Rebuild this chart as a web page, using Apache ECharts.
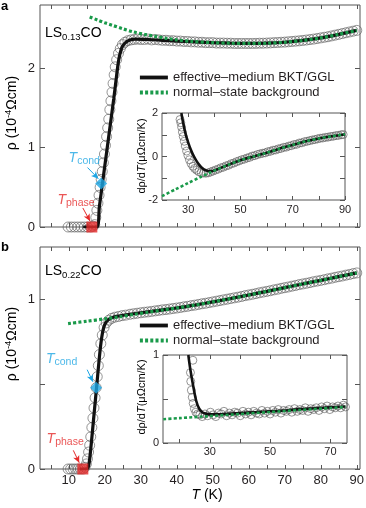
<!DOCTYPE html>
<html>
<head>
<meta charset="utf-8">
<script src="https://cdn.jsdelivr.net/npm/echarts@6/dist/echarts.min.js"></script>
<style>
  html, body { margin: 0; padding: 0; background: #fff; }
  #chart { width: 366px; height: 508px; }
</style>
</head>
<body>
<div id="chart"></div>
<script>
'use strict';

// panel a: LS0.13CO, rho (1e-4 Ohm cm) vs T (K)
var aCircles = [
  [9.8,0],[10.7,0],[11.6,0],[12.5,0],[13.4,0],[14.3,0],[15.2,0],[16.1,0],[16.8,0.01],
  [17.2,0.03],[17.5,0.12],[17.8,0.21],[18.1,0.30],[18.4,0.40],[18.7,0.50],[19.0,0.60],[19.3,0.70],
  [19.6,0.81],[19.9,0.92],[20.2,1.03],[20.5,1.14],[20.8,1.25],[21.1,1.36],[21.4,1.48],[21.7,1.59],
  [22.0,1.70],[22.3,1.81],[22.6,1.92],[22.9,2.02],[23.3,2.11],[23.8,2.19],[24.3,2.25],[24.9,2.30],
  [25.6,2.33],[26.4,2.35],[27.3,2.36],[28.2,2.365],[29.1,2.37],[30.0,2.365],
  [31,2.365],[32,2.37],[33,2.36],[34,2.365],[35,2.36],[36,2.355],[37,2.355],[38,2.35],[39,2.35],
  [40,2.345],[41,2.345],[42,2.34],[43,2.34],[44,2.335],[45,2.335],[46,2.33],[47,2.33],[48,2.325],
  [49,2.325],[50,2.325],[51,2.32],[52,2.32],[53,2.32],[54,2.318],[55,2.318],[56,2.315],[57,2.315],
  [58,2.315],[59,2.315],[60,2.315],[61,2.315],[62,2.316],[63,2.318],[64,2.318],[65,2.32],[66,2.322],
  [67,2.325],[68,2.327],[69,2.33],[70,2.332],[71,2.336],[72,2.34],[73,2.344],[74,2.348],[75,2.353],
  [76,2.358],[77,2.364],[78,2.37],[79,2.377],[80,2.385],[81,2.393],[82,2.40],[83,2.41],[84,2.42],
  [85,2.43],[86,2.44],[87,2.45],[88,2.46],[89,2.47],[90,2.48]
];
var aFit = [
  [14,0],[17.7,0],[18.5,0.26],[19.5,0.6],[20.5,0.94],[21.5,1.28],[22.5,1.62],[23.2,1.88],[23.7,2.06],
  [24.2,2.18],[24.8,2.27],[25.6,2.32],[26.8,2.355],[28.5,2.37],[32,2.365],[36,2.355],[40,2.345],
  [45,2.335],[50,2.325],[55,2.318],[60,2.315],[65,2.318],[70,2.33],[75,2.353],[80,2.385],[85,2.43],[90,2.48]
];
var aBackground = [
  [15.8,2.65],[18,2.61],[20,2.575],[22,2.545],[25,2.50],[28,2.46],[31,2.43],[34,2.405],[37,2.38],
  [40,2.36],[44,2.342],[50,2.325],[55,2.318],[60,2.315],[65,2.318],[70,2.33],[75,2.353],[80,2.385],
  [85,2.43],[90,2.48]
];
var aCond = [19.0, 0.55];
var aPhase = [16.4, 0];

// panel a inset: d rho / dT (micro Ohm cm / K)
var iaCircles = [
  [26.9,1.70],[27.2,1.55],[27.5,1.35],[27.8,1.12],[28.1,0.92],[28.5,0.70],[28.9,0.48],[29.4,0.25],
  [29.9,0.05],[30.5,-0.15],[31.1,-0.32],[31.8,-0.45],[32.5,-0.55],[33.3,-0.63],[34.1,-0.70],[35.0,-0.74],
  [35.9,-0.76],[36.8,-0.77],[37.7,-0.75],[38.6,-0.71],[39.5,-0.67],[40.5,-0.62],[41.5,-0.58],[42.5,-0.52],
  [43.5,-0.49],[44.5,-0.43],[45.5,-0.40],[46.5,-0.33],[47.5,-0.30],[48.5,-0.24],[49.5,-0.20],[50.5,-0.15],
  [51.5,-0.12],[52.5,-0.07],[53.5,-0.04],[54.5,0.02],[55.5,0.04],[56.5,0.09],[57.5,0.12],[58.5,0.15],
  [59.5,0.17],[60.5,0.22],[61.5,0.24],[62.5,0.29],[63.5,0.30],[64.5,0.35],[65.5,0.37],[66.5,0.42],
  [67.5,0.43],[68.5,0.48],[69.5,0.50],[70.5,0.55],[71.5,0.56],[72.5,0.62],[73.5,0.63],[74.5,0.68],
  [75.5,0.70],[76.5,0.73],[77.5,0.76],[78.5,0.78],[79.5,0.81],[80.5,0.84],[81.5,0.85],[82.5,0.88],
  [83.5,0.89],[84.5,0.92],[85.5,0.93],[86.5,0.96],[87.5,0.97],[88.5,1.00],[89.3,1.01]
];
var iaFit = [
  [27.4,2.0],[28,1.6],[29,1.05],[30,0.65],[31,0.32],[32,0.05],[33,-0.17],[34,-0.35],[35,-0.49],
  [36,-0.59],[37,-0.65],[38,-0.68],[39,-0.67],[40,-0.64],[41,-0.60],[45,-0.40],[50,-0.17],[55,0.0],
  [60,0.17],[65,0.36],[70,0.53],[75,0.70],[80,0.83],[85,0.93],[90,1.02]
];
var iaBackground = [
  [20,-1.82],[25,-1.52],[30,-1.22],[35,-0.93],[38,-0.76],[41,-0.60],[45,-0.40],[50,-0.17],[55,0.0],
  [60,0.17],[65,0.36],[70,0.53],[75,0.70],[80,0.83],[85,0.93],[90,1.02]
];

// panel b: LS0.22CO
var bCircles = [
  [9.8,0],[10.5,0],[11.2,0],[11.9,0],[12.6,0],[13.3,0],[14.0,0],
  [14.5,0.01],[14.9,0.03],[15.2,0.06],[15.5,0.10],[15.8,0.14],[16.1,0.19],[16.4,0.245],[16.7,0.30],
  [17.0,0.36],[17.3,0.42],[17.6,0.48],[17.9,0.545],[18.2,0.61],[18.5,0.675],[18.9,0.74],[19.3,0.79],
  [19.8,0.835],[20.4,0.862],[21.1,0.878],[21.9,0.889],[22.8,0.896],[23.8,0.90],[24.8,0.905],[25.8,0.908],
  [27,0.913],[28,0.916],[29,0.919],[30,0.922],[31,0.925],[32,0.927],[33,0.930],[34,0.933],[35,0.936],
  [36,0.939],[37,0.941],[38,0.944],[39,0.947],[40,0.950],[41,0.953],[42,0.957],[43,0.960],[44,0.964],
  [45,0.967],[46,0.971],[47,0.975],[48,0.978],[49,0.982],[50,0.986],[51,0.990],[52,0.994],[53,0.998],
  [54,1.002],[55,1.006],[56,1.010],[57,1.014],[58,1.018],[59,1.023],[60,1.027],[61,1.031],[62,1.035],
  [63,1.040],[64,1.044],[65,1.048],[66,1.052],[67,1.057],[68,1.061],[69,1.066],[70,1.070],[71,1.074],
  [72,1.079],[73,1.083],[74,1.088],[75,1.092],[76,1.096],[77,1.100],[78,1.105],[79,1.109],[80,1.113],
  [81,1.117],[82,1.122],[83,1.126],[84,1.131],[85,1.135],[86,1.139],[87,1.144],[88,1.148],[89,1.153],[90,1.157]
];
var bFit = [
  [13,0],[15.0,0],[15.6,0.03],[16.2,0.14],[17.0,0.32],[17.8,0.5],[18.5,0.66],[19.1,0.77],[19.7,0.835],
  [20.4,0.868],[21.3,0.886],[22.5,0.897],[24,0.903],[26,0.91],[30,0.922],[35,0.936],[40,0.95],[45,0.967],
  [50,0.986],[55,1.006],[60,1.027],[65,1.048],[70,1.07],[75,1.092],[80,1.113],[85,1.135],[90,1.157]
];
var bBackground = [
  [9.8,0.858],[15,0.872],[20,0.886],[24,0.898],[28,0.912],[32,0.925],[36,0.938],[40,0.95],[45,0.967],
  [50,0.986],[55,1.006],[60,1.027],[65,1.048],[70,1.07],[75,1.092],[80,1.113],[85,1.135],[90,1.157]
];
var bCond = [17.6, 0.48];
var bPhase = [13.9, 0];

// panel b inset
var ibCircles = [
  [24.4,0.94],[23.6,0.80],[23.7,0.70],[23.9,0.60],[24.2,0.52],[24.5,0.45],[24.9,0.39],[25.4,0.35],
  [26.0,0.33],[26.7,0.32],[27.5,0.30],[28.4,0.33],[29.3,0.31],[30.2,0.35],[31.1,0.32],[32.0,0.30],
  [32.9,0.34],[33.8,0.33],[34.7,0.36],[35.6,0.31],[36.5,0.34],[37.4,0.32],[38.3,0.35],[39.2,0.34],
  [40.1,0.31],[41.0,0.36],[41.9,0.33],[42.8,0.35],[43.7,0.32],[44.6,0.36],[45.5,0.34],[46.4,0.33],
  [47.3,0.37],[48.2,0.34],[49.1,0.36],[50.0,0.33],[50.9,0.37],[51.8,0.35],[52.7,0.38],[53.6,0.34],
  [54.5,0.37],[55.4,0.36],[56.3,0.38],[57.2,0.35],[58.1,0.39],[59.0,0.36],[59.9,0.38],[60.8,0.37],
  [61.7,0.40],[62.6,0.36],[63.5,0.39],[64.4,0.38],[65.3,0.40],[66.2,0.37],[67.1,0.41],[68.0,0.39],
  [68.9,0.42],[69.8,0.38],[70.7,0.41],[71.6,0.40],[72.5,0.42],[73.4,0.40],[74.3,0.43],[75.0,0.41]
];
var ibFit = [
  [22.9,1.0],[23.5,0.85],[24.5,0.65],[25.5,0.48],[26.5,0.39],[27.5,0.35],[28.5,0.335],[30,0.325],
  [35,0.33],[40,0.34],[45,0.35],[50,0.36],[55,0.37],[60,0.385],[65,0.395],[70,0.405],[75,0.415]
];
var ibBackground = [
  [14.6,0.27],[20,0.283],[30,0.306],[40,0.329],[50,0.352],[60,0.375],[70,0.398],[75,0.41]
];

// ticks and labels
var mainXTicks = [5,10,15,20,25,30,35,40,45,50,55,60,65,70,75,80,85,90];
var mainXLabels = [10,20,30,40,50,60,70,80,90];
var aYTicks = [0,1,2];
var aYLabels = [0,1,2];
var bYTicks = [0,0.5,1];
var bYLabels = [0,1];
var iaXTicks = [30,40,50,60,70,80,90];
var iaXLabels = [30,50,70,90];
var iaYTicks = [-2,-1,0,1,2];
var iaYLabels = [-2,0,2];
var ibXTicks = [20,30,40,50,60,70];
var ibXLabels = [30,50,70];
var ibYTicks = [0,0.5,1];
var ibYLabels = [0,1];

var FIT = 'effective\u2013medium BKT/GGL';
var BG = 'normal\u2013state background';

var FONT = '"Liberation Sans", Arial, sans-serif';
var FRAME = '#555';
var INK = '#231f20';
var BLACK = '#111';
var GREEN = '#1a9a4a';
var BLUE = '#1ea6e4';
var RED = '#e52a2a';
var RING = '#5a5a5a';

var chart = echarts.init(document.getElementById('chart'));

function xPair(grid, min, max, ticks, labels, fontSize, margin) {
  var common = {
    type: 'value', gridIndex: grid, min: min, max: max,
    axisLine: { show: false, onZero: false }, splitLine: { show: false }
  };
  return [
    Object.assign({}, common, {
      position: 'bottom',
      axisTick: { inside: true, length: 4, customValues: ticks, lineStyle: { color: FRAME } },
      axisLabel: labels ? { customValues: labels, fontSize: fontSize, color: INK, margin: margin, fontFamily: FONT } : { show: false }
    }),
    Object.assign({}, common, {
      position: 'top',
      axisTick: { inside: true, length: 4, customValues: ticks, lineStyle: { color: FRAME } },
      axisLabel: { show: false }
    })
  ];
}

function yPair(grid, min, max, ticks, labels, fontSize, margin) {
  var common = {
    type: 'value', gridIndex: grid, min: min, max: max,
    axisLine: { show: false, onZero: false }, splitLine: { show: false }
  };
  return [
    Object.assign({}, common, {
      position: 'left',
      axisTick: { inside: true, length: 5, customValues: ticks, lineStyle: { color: FRAME } },
      axisLabel: { customValues: labels, fontSize: fontSize, color: INK, margin: margin, fontFamily: FONT }
    }),
    Object.assign({}, common, {
      position: 'right',
      axisTick: { inside: true, length: 5, customValues: ticks, lineStyle: { color: FRAME } },
      axisLabel: { show: false }
    })
  ];
}

function gridBox(left, top, width, height, bg) {
  return {
    left: left, top: top, width: width, height: height,
    containLabel: false, outerBoundsMode: 'none',
    show: true, borderColor: FRAME, borderWidth: 1, backgroundColor: bg
  };
}

function circles(axis, data, size) {
  return {
    type: 'scatter', name: 'data', xAxisIndex: axis, yAxisIndex: axis, clip: false, silent: true,
    symbol: 'circle', symbolSize: size, data: data,
    itemStyle: { color: 'rgba(255,255,255,0)', borderColor: RING, borderWidth: 0.8 }
  };
}

function curve(axis, name, data, color, width, dotted) {
  return {
    type: 'line', name: name, xAxisIndex: axis, yAxisIndex: axis, data: data,
    symbol: 'none', smooth: 0.3, clip: true, silent: true,
    lineStyle: { color: color, width: width, type: dotted ? [3, 2.2] : 'solid', cap: 'butt' },
    itemStyle: { color: color }
  };
}

function subRich(color) {
  return {
    i: { fontSize: 14, fontStyle: 'italic', color: color, fontFamily: FONT, lineHeight: 18 },
    s: { fontSize: 10.5, color: color, fontFamily: FONT, verticalAlign: 'bottom', lineHeight: 11 }
  };
}

function marker(axis, point, shape, size, color, from, to) {
  return {
    type: 'scatter', xAxisIndex: axis, yAxisIndex: axis, clip: false, silent: true, z: 5,
    symbol: shape, symbolSize: size, data: [point],
    itemStyle: { color: color },
    markLine: {
      silent: true, symbol: ['none', 'arrow'], symbolSize: [5, 7], animation: false,
      lineStyle: { color: color, width: 1, type: 'solid' }, label: { show: false },
      data: [[{ coord: from }, { coord: to }]]
    }
  };
}

function note(axis, point, text, color) {
  return {
    type: 'scatter', xAxisIndex: axis, yAxisIndex: axis, clip: false, silent: true, z: 6,
    symbolSize: 1, itemStyle: { color: 'rgba(0,0,0,0)' }, data: [point],
    label: { show: true, position: 'right', distance: 0, formatter: text, rich: subRich(color) }
  };
}

function legendAt(top) {
  return {
    left: 138, top: top, orient: 'vertical', padding: 0, itemGap: 2,
    itemWidth: 28, itemHeight: 14, selectedMode: false, data: [FIT, BG],
    lineStyle: { width: 3.8 },
    itemStyle: { opacity: 0 },
    textStyle: { fontSize: 13, color: INK, fontFamily: FONT }
  };
}

var textRich = {
  n: { fontSize: 14, color: INK, fontFamily: FONT, lineHeight: 18 },
  i: { fontSize: 14, fontStyle: 'italic', color: INK, fontFamily: FONT, lineHeight: 18 },
  s: { fontSize: 9.5, color: INK, fontFamily: FONT, verticalAlign: 'bottom', lineHeight: 10 },
  sup: { fontSize: 9.5, color: INK, fontFamily: FONT, verticalAlign: 'top', lineHeight: 10 },
  sn: { fontSize: 11, color: INK, fontFamily: FONT, lineHeight: 13 },
  si: { fontSize: 11, fontStyle: 'italic', color: INK, fontFamily: FONT, lineHeight: 13 }
};

function label(x, y, text, rotate, align) {
  return {
    type: 'text', x: x, y: y, rotation: rotate ? Math.PI / 2 : 0, silent: true,
    style: { text: text, rich: textRich, textAlign: align || 'center', textVerticalAlign: 'middle' }
  };
}

var option = {
  animation: false,
  backgroundColor: '#fff',
  textStyle: { fontFamily: FONT },
  grid: [
    gridBox(40, 5, 320, 222, 'rgba(0,0,0,0)'),
    gridBox(40, 247, 320, 222, 'rgba(0,0,0,0)'),
    gridBox(162, 113, 183, 87, '#fff'),
    gridBox(163, 355, 184, 88, '#fff')
  ],
  // axis index 2*g is bottom/left, 2*g+1 top/right for grid g
  xAxis: [].concat(
    xPair(0, 2, 90.9, mainXTicks, null, 13, 5),
    xPair(1, 2, 90.9, mainXTicks, mainXLabels, 13, 5),
    xPair(2, 20, 90, iaXTicks, iaXLabels, 11, 4),
    xPair(3, 14.5, 75.5, ibXTicks, ibXLabels, 11, 3)
  ),
  yAxis: [].concat(
    yPair(0, 0, 2.8, aYTicks, aYLabels, 13, 5),
    yPair(1, 0, 1.31, bYTicks, bYLabels, 13, 5),
    yPair(2, -2, 2, iaYTicks, iaYLabels, 11, 4),
    yPair(3, 0, 1, ibYTicks, ibYLabels, 11, 4)
  ),
  legend: [legendAt(71), legendAt(319)],
  series: [
    circles(0, aCircles, 10),
    curve(0, FIT, aFit, BLACK, 3.2, false),
    curve(0, BG, aBackground, GREEN, 3.2, true),
    marker(0, aCond, 'diamond', 12, BLUE, [15.2, 0.75], [18.2, 0.61]),
    marker(0, aPhase, 'rect', 11, RED, [13.9, 0.24], [15.9, 0.075]),
    note(0, [9.8, 0.87], '{i|T}{s|cond}', BLUE),
    note(0, [6.7, 0.34], '{i|T}{s|phase}', RED),

    circles(2, bCircles, 10),
    curve(2, FIT, bFit, BLACK, 3.2, false),
    curve(2, BG, bBackground, GREEN, 3.2, true),
    marker(2, bCond, 'diamond', 12, BLUE, [15.1, 0.586], [16.7, 0.515]),
    marker(2, bPhase, 'rect', 11, RED, [11.25, 0.11], [12.9, 0.037]),
    note(2, [3.5, 0.65], '{i|T}{s|cond}', BLUE),
    note(2, [3.7, 0.178], '{i|T}{s|phase}', RED),

    circles(4, iaCircles, 8),
    curve(4, 'inset fit a', iaFit, BLACK, 2.6, false),
    curve(4, 'inset background a', iaBackground, GREEN, 2.6, true),

    circles(6, ibCircles, 8),
    curve(6, 'inset fit b', ibFit, BLACK, 2.6, false),
    curve(6, 'inset background b', ibBackground, GREEN, 2.6, true)
  ],
  graphic: [
    { type: 'text', x: 1, y: 0, silent: true, style: { text: 'a', fontSize: 13, fontWeight: 'bold', fontFamily: FONT, fill: '#000' } },
    { type: 'text', x: 1, y: 241, silent: true, style: { text: 'b', fontSize: 13, fontWeight: 'bold', fontFamily: FONT, fill: '#000' } },
    label(45, 33, '{n|LS}{s|0.13}{n|CO}', false, 'left'),
    label(45, 271, '{n|LS}{s|0.22}{n|CO}', false, 'left'),
    label(12, 113, '{n|\u03c1 (10}{sup|-4}{n|\u03a9cm)}', true),
    label(12, 344, '{n|\u03c1 (10}{sup|-4}{n|\u03a9cm)}', true),
    label(142, 156, '{sn|d\u03c1/d}{si|T}{sn|(\u03bc\u03a9cm/K)}', true),
    label(142, 397, '{sn|d\u03c1/d}{si|T}{sn|(\u03bc\u03a9cm/K)}', true),
    label(207, 495, '{i|T}{n| (K)}', false)
  ]
};

chart.setOption(option);
</script>
</body>
</html>
